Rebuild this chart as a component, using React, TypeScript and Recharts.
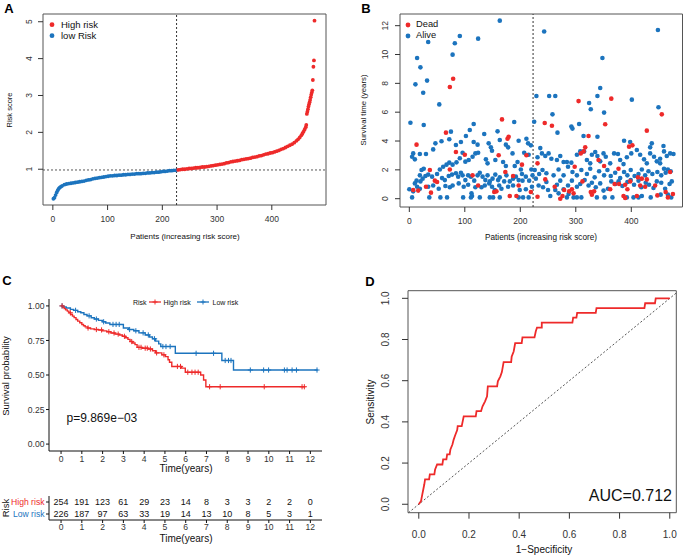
import React from 'react';
import {
  ScatterChart,
  Scatter,
  ComposedChart,
  LineChart,
  Line,
  XAxis,
  YAxis,
  ReferenceLine,
  ReferenceArea,
} from 'recharts';

const FONT = '"Liberation Sans", Arial, Helvetica, sans-serif';
const RED = '#EE2A2A';
const BLUE = '#1C74BE';
const INK = '#333';

// ---- A: risk score per patient (sorted), [patient rank, score]
const lowRiskScores: [number, number][] = [
  [1, 0.2], [3, 0.23], [5, 0.3], [7, 0.37], [9, 0.43], [11, 0.48], [13, 0.51], [15, 0.53], [17, 0.55],
  [21, 0.58], [25, 0.6], [29, 0.61], [33, 0.62], [37, 0.63], [41, 0.64], [45, 0.65], [49, 0.66], [53, 0.67],
  [57, 0.68], [61, 0.7], [65, 0.71], [69, 0.72], [73, 0.74], [77, 0.75], [81, 0.76], [85, 0.77], [89, 0.78],
  [93, 0.79], [97, 0.8], [101, 0.81], [105, 0.82], [109, 0.82], [113, 0.83], [117, 0.83], [121, 0.84],
  [125, 0.84], [129, 0.85], [133, 0.85], [137, 0.86], [141, 0.86], [145, 0.87], [149, 0.87], [153, 0.88],
  [157, 0.88], [161, 0.88], [165, 0.89], [169, 0.89], [173, 0.9], [177, 0.9], [181, 0.91], [185, 0.91],
  [189, 0.92], [193, 0.92], [197, 0.93], [201, 0.94], [205, 0.94], [209, 0.95], [213, 0.96], [217, 0.96],
  [221, 0.97], [225, 0.97],
];
const highRiskScores: [number, number][] = [
  [229, 0.98], [233, 0.99], [237, 1.0], [241, 1.0], [245, 1.01], [249, 1.02], [253, 1.02], [257, 1.03],
  [261, 1.04], [265, 1.04], [269, 1.05], [273, 1.06], [277, 1.06], [281, 1.07], [285, 1.08], [289, 1.09],
  [293, 1.1], [297, 1.11], [301, 1.12], [305, 1.13], [309, 1.14], [313, 1.15], [317, 1.17], [321, 1.18],
  [325, 1.2], [329, 1.21], [333, 1.22], [337, 1.23], [341, 1.24], [345, 1.26], [349, 1.27], [353, 1.28],
  [357, 1.29], [361, 1.3], [365, 1.32], [369, 1.33], [373, 1.34], [377, 1.36], [381, 1.37], [385, 1.39],
  [389, 1.41], [393, 1.42], [397, 1.44], [401, 1.45], [405, 1.47], [409, 1.49], [413, 1.51], [417, 1.54],
  [421, 1.56], [425, 1.59], [429, 1.62], [433, 1.65], [437, 1.68], [441, 1.72], [445, 1.77], [448, 1.81],
  [451, 1.86], [454, 1.92], [456, 1.97], [458, 2.02], [460, 2.08], [462, 2.14], [463, 2.2], [464, 2.5],
  [465, 2.56], [466, 2.63], [467, 2.7], [468, 2.76], [469, 2.82], [470, 2.88], [471, 2.95], [472, 3.02],
  [473, 3.08], [474, 3.14], [475, 3.42], [476, 3.78], [477, 3.95], [478, 5.03],
];
const riskCutoff = 0.98;
const lowRiskCount = 226;
const riskTicksX = [0, 100, 200, 300, 400];
const riskTicksY = [1, 2, 3, 4, 5];

// ---- B: survival time per patient, [patient rank, years]
const alivePoints: [number, number][] = [
  [163, 12.35], [91, 11.28], [124, 11.1], [34, 10.87], [82, 10.78], [78, 9.99], [14, 9.76], [20, 9.11],
  [32, 8.19], [11, 7.93], [25, 7.35], [54, 6.54], [229, 7.12], [243, 11.6], [2, 5.27], [26, 5.11],
  [189, 5.32], [225, 5.34], [116, 5.18], [448, 11.7], [348, 9.76], [344, 7.68], [339, 7.12], [252, 7.12],
  [263, 7.12], [324, 6.64], [327, 6.2], [401, 6.87], [449, 6.34], [351, 5.97], [258, 5.85], [306, 5.18],
  [292, 5.0], [294, 4.86], [267, 4.58],
  [7, 3.14], [5, 2.91], [10, 2.73], [19, 3.1], [30, 3.1], [43, 3.42], [47, 3.84], [58, 3.98], [72, 4.12],
  [75, 4.65], [84, 3.72], [93, 3.93], [102, 4.35], [109, 4.76], [116, 3.93], [123, 3.75], [119, 3.14],
  [124, 3.19], [135, 4.49], [143, 3.84], [147, 3.56], [149, 3.33], [159, 4.67], [163, 4.07], [174, 3.75],
  [178, 3.56], [186, 3.14], [197, 4.02], [211, 4.16], [214, 3.84], [215, 3.05], [219, 3.7], [207, 3.19],
  [231, 2.87], [96, 3.19], [107, 2.68], [114, 2.91], [101, 2.57], [72, 2.5], [67, 2.36], [61, 2.22],
  [78, 2.36], [85, 2.52], [91, 2.8], [138, 2.73], [141, 2.45], [155, 2.68], [169, 2.54], [174, 2.27],
  [190, 2.27], [195, 2.54], [201, 2.03], [203, 1.71], [220, 2.03], [226, 1.99], [234, 1.71],
  [22, 1.99], [26, 2.08], [34, 1.67], [19, 1.62], [13, 1.25], [10, 1.06], [14, 0.83], [20, 1.2], [24, 1.39],
  [29, 1.57], [41, 1.53], [50, 1.71], [55, 2.03], [59, 1.43], [64, 1.29], [71, 1.57], [77, 1.67], [84, 1.76],
  [88, 1.53], [93, 1.8], [96, 1.62], [101, 1.29], [106, 1.62], [111, 1.53], [117, 1.25], [123, 1.62],
  [127, 1.8], [132, 1.53], [137, 1.29], [141, 1.62], [145, 1.2], [150, 1.39], [155, 1.67], [160, 1.29],
  [163, 1.48], [171, 1.2], [175, 1.62], [181, 1.2], [187, 1.39], [192, 1.53], [197, 1.29], [204, 1.25],
  [210, 1.53], [216, 1.25], [222, 1.62], [228, 1.39],
  [0, 0.65], [7, 0.51], [19, 0.69], [34, 0.83], [43, 0.92], [53, 0.69], [65, 0.88], [73, 0.79], [78, 0.92],
  [89, 1.06], [98, 0.83], [106, 0.97], [112, 0.37], [113, 0.19], [119, 0.79], [130, 0.79], [136, 0.92],
  [144, 1.06], [149, 0.83], [154, 0.6], [162, 0.92], [166, 0.69], [178, 0.83], [187, 0.92], [199, 0.6],
  [210, 0.65], [221, 0.83], [233, 0.92],
  [5, 0.09], [36, 0.09], [56, 0.09], [68, 0.09], [97, 0.09], [111, 0.09], [127, 0.09], [145, 0.09],
  [151, 0.09], [163, 0.09], [197, 0.09], [205, 0.09], [215, 0.09],
  [387, 4.02], [398, 3.93], [434, 3.56], [458, 3.65], [314, 4.35], [339, 4.3], [236, 3.51], [239, 3.14],
  [245, 2.96], [251, 3.14], [256, 2.77], [266, 2.68], [272, 2.96], [278, 2.54], [284, 2.54], [292, 2.5],
  [302, 3.05], [308, 3.28], [315, 3.28], [320, 2.68], [326, 2.45], [329, 3.05], [335, 3.24], [339, 2.96],
  [344, 2.59], [350, 3.14], [354, 2.91], [362, 2.45], [369, 3.14], [376, 3.1], [380, 2.68], [386, 2.4],
  [392, 2.87], [400, 3.14], [410, 3.38], [416, 3.05], [423, 2.73], [428, 2.45], [434, 3.14], [437, 3.84],
  [441, 2.91], [446, 2.59], [452, 2.77], [459, 3.28], [464, 2.96], [470, 3.14], [476, 3.1], [466, 2.03],
  [459, 2.08], [452, 2.45],
  [240, 1.99], [247, 1.76], [260, 1.62], [269, 2.03], [278, 1.62], [286, 2.22], [294, 1.85], [302, 1.62],
  [310, 1.99], [320, 1.71], [326, 2.08], [334, 1.48], [342, 1.9], [351, 1.62], [357, 1.99], [363, 1.57],
  [371, 1.8], [380, 1.43], [387, 1.85], [393, 1.62], [399, 1.99], [406, 1.57], [413, 1.71], [419, 2.03],
  [425, 1.62], [431, 1.9], [438, 1.71], [447, 1.85], [454, 1.62], [462, 1.8], [471, 1.9],
  [247, 1.16], [241, 0.79], [250, 0.6], [266, 0.97], [272, 1.25], [278, 0.65], [286, 0.92], [293, 1.25],
  [302, 0.83], [308, 1.02], [316, 1.29], [323, 0.92], [329, 1.11], [336, 0.79], [344, 1.06], [350, 0.56],
  [358, 0.69], [364, 1.2], [371, 1.02], [377, 1.2], [384, 0.88], [393, 1.16], [399, 1.29], [405, 0.97],
  [413, 1.25], [418, 0.79], [426, 1.11], [432, 0.97], [440, 0.74], [446, 1.2], [454, 1.11], [461, 0.69],
  [469, 1.02], [473, 1.2],
  [254, 0.19], [263, 0.6], [269, 0.37], [284, 0.09], [287, 0.32], [296, 0.09], [302, 0.09], [310, 0.09],
  [338, 0.09], [352, 0.09], [366, 0.09], [392, 0.09], [404, 0.09], [413, 0.09], [419, 0.19], [435, 0.09],
  [453, 0.28], [466, 0.28], [472, 0.09],
];
const deadPoints: [number, number][] = [
  [79, 8.32], [73, 7.75], [167, 5.5], [244, 5.25], [305, 6.77], [364, 6.94], [455, 5.85], [257, 5.06],
  [353, 5.16], [428, 4.72],
  [66, 4.58], [13, 3.75], [84, 3.24], [100, 3.05], [161, 3.01], [179, 4.3], [177, 4.16], [211, 3.01],
  [203, 2.36], [231, 2.45], [37, 1.99], [73, 2.03], [114, 1.62], [46, 1.25], [50, 1.16], [173, 1.85],
  [187, 1.57], [124, 0.92], [30, 0.83], [7, 0.6], [16, 0.56], [39, 0.42], [153, 0.46], [157, 0.51],
  [197, 0.92], [219, 0.46], [181, 0.19], [193, 0.19], [231, 0.14],
  [323, 4.35], [309, 3.14], [314, 3.28], [317, 3.56], [341, 2.68], [298, 2.22], [351, 2.27], [377, 2.08],
  [402, 3.7], [396, 3.61], [470, 1.85], [245, 1.34], [312, 1.2], [262, 0.83], [279, 0.6], [293, 0.65],
  [296, 0.37], [327, 0.46], [329, 0.28], [333, 0.51], [370, 1.02], [378, 1.02], [389, 0.97], [393, 0.65],
  [398, 1.2], [386, 0.19], [389, 0.05], [412, 1.48], [416, 0.92], [419, 1.39], [425, 0.83], [443, 0.92],
  [447, 0.23], [462, 0.46], [466, 0.09], [475, 0.32], [272, 0.0], [276, 0.19], [288, 0.51], [362, 0.65],
  [410, 0.19], [428, 1.34],
];
const survTicksY = [0, 2, 4, 6, 8, 10, 12];
const survSplit = 223;

// ---- C: Kaplan-Meier, [years, survival]
const kmTicks = [0, 1, 2, 3, 4, 5, 6, 7, 8, 9, 10, 11, 12];
const kmYTicks = [0, 0.25, 0.5, 0.75, 1];
const highRiskKM: [number, number][] = [
  [0, 1.0], [0.08, 0.992], [0.15, 0.98], [0.22, 0.971], [0.3, 0.962], [0.38, 0.95], [0.46, 0.938],
  [0.55, 0.926], [0.63, 0.915], [0.72, 0.902], [0.8, 0.89], [0.9, 0.878], [1.0, 0.866], [1.08, 0.856],
  [1.16, 0.848], [1.28, 0.84], [1.42, 0.834], [1.6, 0.829], [1.8, 0.826], [2.0, 0.819], [2.2, 0.813],
  [2.4, 0.804], [2.6, 0.796], [2.8, 0.789], [2.95, 0.78], [3.1, 0.77], [3.22, 0.758], [3.32, 0.742],
  [3.45, 0.732], [3.56, 0.72], [3.66, 0.7], [3.9, 0.694], [4.2, 0.688], [4.4, 0.676], [4.55, 0.66],
  [4.85, 0.646], [5.02, 0.633], [5.15, 0.61], [5.22, 0.592], [5.33, 0.562], [5.8, 0.55], [5.98, 0.52],
  [6.72, 0.5], [6.86, 0.464], [6.97, 0.415], [11.76, 0.415],
];
const lowRiskKM: [number, number][] = [
  [0, 1.0], [0.1, 0.992], [0.25, 0.985], [0.45, 0.975], [0.6, 0.968], [0.8, 0.958], [0.95, 0.95],
  [1.1, 0.938], [1.25, 0.928], [1.45, 0.914], [1.6, 0.905], [1.8, 0.895], [2.0, 0.885], [2.15, 0.876],
  [2.35, 0.866], [3.0, 0.84], [3.25, 0.829], [3.5, 0.82], [3.75, 0.805], [4.05, 0.79], [4.25, 0.775],
  [4.4, 0.762], [4.55, 0.745], [4.7, 0.725], [4.8, 0.706], [5.5, 0.657], [7.74, 0.605], [8.3, 0.536],
  [12.35, 0.536],
];
const highRiskCensor = [
  0.05, 0.45, 1.3, 1.7, 1.95, 2.3, 2.55, 2.75, 3.05, 3.4, 3.75, 3.85, 4.05, 4.15, 4.3, 4.6, 4.95, 5.6,
  5.75, 6.1, 6.3, 6.45, 6.6, 7.15, 7.66, 9.78, 11.6, 11.71,
];
const lowRiskCensor = [
  0.05, 0.7, 1.35, 1.7, 2.05, 2.5, 2.65, 2.8, 3.3, 3.6, 3.95, 4.2, 4.5, 4.9, 5.05, 5.25, 6.5, 7.34, 7.9,
  8.06, 8.18, 9.11, 9.75, 9.99, 10.75, 10.88, 11.12, 11.33, 12.32,
];
const riskGroups = ['High risk', 'Low risk'];
const highAtRisk = [254, 191, 123, 61, 29, 23, 14, 8, 3, 3, 2, 2, 0];
const lowAtRisk = [226, 187, 97, 63, 33, 19, 14, 13, 10, 8, 5, 3, 1];
const pValueText = 'p=9.869e\u221203';

// ---- D: ROC curve, [1-specificity, sensitivity]
const rocPoints: [number, number][] = [
  [0, 0], [0.009, 0.016], [0.014, 0.048], [0.022, 0.097], [0.025, 0.121], [0.041, 0.121], [0.044, 0.145],
  [0.062, 0.145], [0.065, 0.169], [0.073, 0.193], [0.094, 0.193], [0.097, 0.218], [0.11, 0.218],
  [0.113, 0.242], [0.123, 0.242], [0.126, 0.266], [0.134, 0.29], [0.139, 0.314], [0.145, 0.335],
  [0.153, 0.36], [0.155, 0.379], [0.171, 0.379], [0.179, 0.427], [0.227, 0.427], [0.23, 0.452],
  [0.248, 0.452], [0.254, 0.476], [0.264, 0.5], [0.272, 0.524], [0.275, 0.572], [0.312, 0.572],
  [0.315, 0.597], [0.325, 0.621], [0.331, 0.642], [0.338, 0.69], [0.368, 0.69], [0.37, 0.716],
  [0.378, 0.742], [0.384, 0.782], [0.41, 0.782], [0.413, 0.81], [0.461, 0.81], [0.466, 0.839],
  [0.471, 0.858], [0.49, 0.858], [0.49, 0.882], [0.612, 0.882], [0.615, 0.906], [0.628, 0.906],
  [0.631, 0.929], [0.705, 0.929], [0.708, 0.952], [0.899, 0.952], [0.902, 0.976], [0.941, 0.976],
  [0.944, 1.0], [1.0, 1.0],
];
const rocTicks = [0, 0.2, 0.4, 0.6, 0.8, 1.0];
const aucText = 'AUC=0.712';

function survAt(km: [number, number][], t: number) {
  let s = km[0][1];
  for (const [tt, ss] of km) if (tt <= t) s = ss;
  return s;
}

type TxtProps = {
  x: number;
  y: number;
  size: number;
  children: React.ReactNode;
  color?: string;
  rot?: number;
  align?: 'left' | 'center' | 'right';
  bold?: boolean;
};

function Txt({ x, y, size, children, color = '#111', rot = 0, align = 'center', bold = false }: TxtProps) {
  const tx = align === 'left' ? '0' : align === 'right' ? '-100%' : '-50%';
  return (
    <div
      style={{
        position: 'absolute',
        left: x,
        top: y,
        transform: `translate(${tx}, -50%) rotate(${rot}deg)`,
        fontSize: size,
        lineHeight: 1,
        whiteSpace: 'nowrap',
        color,
        fontFamily: FONT,
        fontWeight: bold ? 700 : 400,
      }}
    >
      {children}
    </div>
  );
}

function RotTick(props: any) {
  const { x, y, payload, size, fmt } = props;
  const label = fmt ? fmt(payload.value) : String(payload.value);
  return (
    <text
      x={x}
      y={y}
      transform={`rotate(-90 ${x} ${y})`}
      textAnchor="middle"
      fontSize={size}
      fill={INK}
      fontFamily={FONT}
    >
      {label}
    </text>
  );
}

function RiskRowTick(props: any) {
  const { x, y, payload } = props;
  const high = payload.value === 3;
  return (
    <text
      x={x}
      y={y}
      textAnchor="end"
      dominantBaseline="central"
      fontSize={8.6}
      fill={high ? RED : BLUE}
      fontFamily={FONT}
    >
      {high ? riskGroups[0] : riskGroups[1]}
    </text>
  );
}

const dot = (r: number, fill: string) => (p: any) => <circle cx={p.cx} cy={p.cy} r={r} fill={fill} />;
const cross = (color: string) => (p: any) => (
  <path d={`M${p.cx - 2.6},${p.cy}h5.2M${p.cx},${p.cy - 2.6}v5.2`} stroke={color} strokeWidth={1} />
);
const countLabel = (p: any) => (
  <text
    x={p.cx}
    y={p.cy}
    textAnchor="middle"
    dominantBaseline="central"
    fontSize={9}
    fill="#111"
    fontFamily={FONT}
  >
    {p.payload.n}
  </text>
);

const tickStyle = (size: number) => ({ fontSize: size, fill: INK, fontFamily: FONT });

function PanelA() {
  const low = lowRiskScores.map(([x, y]) => ({ x, y }));
  const high = highRiskScores.map(([x, y]) => ({ x, y }));
  return (
    <ScatterChart width={342} height={270} margin={{ top: 14, right: 16, bottom: 20, left: 0 }}>
      <XAxis
        type="number"
        dataKey="x"
        domain={[-18, 499]}
        ticks={riskTicksX}
        interval={0}
        axisLine={false}
        tickLine={{ stroke: INK }}
        tickSize={5}
        tickMargin={6}
        height={45}
        tick={tickStyle(8.5)}
        allowDataOverflow
      />
      <YAxis
        type="number"
        dataKey="y"
        domain={[0.03, 5.21]}
        ticks={riskTicksY}
        interval={0}
        axisLine={false}
        tickLine={{ stroke: INK }}
        tickSize={5}
        tickMargin={6}
        width={43}
        tick={<RotTick size={8.5} />}
        allowDataOverflow
      />
      <ReferenceArea x1={-18} x2={499} y1={0.03} y2={5.21} fill="none" stroke="#555" ifOverflow="visible" />
      <ReferenceLine y={riskCutoff} stroke="#555" strokeDasharray="2 2" />
      <ReferenceLine x={lowRiskCount} stroke="#333" strokeDasharray="2 2" />
      <Scatter data={low} shape={dot(1.9, BLUE)} isAnimationActive={false} />
      <Scatter data={high} shape={dot(1.9, RED)} isAnimationActive={false} />
    </ScatterChart>
  );
}

function PanelB() {
  const alive = alivePoints.map(([x, y]) => ({ x, y }));
  const dead = deadPoints.map(([x, y]) => ({ x, y }));
  return (
    <ScatterChart width={342} height={270} margin={{ top: 14, right: 1.5, bottom: 18, left: 0 }}>
      <XAxis
        type="number"
        dataKey="x"
        domain={[-16.8, 492.3]}
        ticks={riskTicksX}
        interval={0}
        axisLine={false}
        tickLine={{ stroke: INK }}
        tickSize={5}
        tickMargin={6}
        height={45}
        tick={tickStyle(8.5)}
        allowDataOverflow
      />
      <YAxis
        type="number"
        dataKey="y"
        domain={[-0.576, 12.81]}
        ticks={survTicksY}
        interval={0}
        axisLine={false}
        tickLine={{ stroke: INK }}
        tickSize={5}
        tickMargin={7}
        width={58}
        tick={<RotTick size={8.5} />}
        allowDataOverflow
      />
      <ReferenceArea x1={-16.8} x2={492.3} y1={-0.576} y2={12.81} fill="none" stroke="#555" ifOverflow="visible" />
      <ReferenceLine x={survSplit} stroke="#333" strokeDasharray="2 2" />
      <Scatter data={alive} shape={dot(2.3, BLUE)} isAnimationActive={false} />
      <Scatter data={dead} shape={dot(2.3, RED)} isAnimationActive={false} />
    </ScatterChart>
  );
}

function PanelC() {
  const high = highRiskKM.map(([t, s]) => ({ t, s }));
  const low = lowRiskKM.map(([t, s]) => ({ t, s }));
  const highC = highRiskCensor.map((t) => ({ t, s: survAt(highRiskKM, t) }));
  const lowC = lowRiskCensor.map((t) => ({ t, s: survAt(lowRiskKM, t) }));
  return (
    <ComposedChart width={342} height={200} margin={{ top: 29, right: 20, bottom: 0, left: 0 }}>
      <XAxis
        type="number"
        dataKey="t"
        domain={[-0.58, 12.56]}
        ticks={kmTicks}
        interval={0}
        stroke="#111"
        tickLine={{ stroke: '#111' }}
        tickSize={3}
        tickMargin={1.5}
        height={19}
        tick={tickStyle(8.6)}
        allowDataOverflow
      />
      <YAxis
        type="number"
        dataKey="s"
        domain={[-0.05, 1.05]}
        ticks={kmYTicks}
        interval={0}
        stroke="#111"
        tickLine={{ stroke: '#111' }}
        tickSize={3}
        tickMargin={1.5}
        width={49}
        tickFormatter={(v: number) => v.toFixed(2)}
        tick={tickStyle(8.6)}
        allowDataOverflow
      />
      <Line data={low} dataKey="s" type="stepAfter" stroke={BLUE} strokeWidth={1.4} dot={false} isAnimationActive={false} />
      <Line data={high} dataKey="s" type="stepAfter" stroke={RED} strokeWidth={1.4} dot={false} isAnimationActive={false} />
      <Scatter data={lowC} shape={cross(BLUE)} isAnimationActive={false} />
      <Scatter data={highC} shape={cross(RED)} isAnimationActive={false} />
    </ComposedChart>
  );
}

function RiskTable() {
  const rows = [
    ...highAtRisk.map((n, i) => ({ t: kmTicks[i], s: 3, n })),
    ...lowAtRisk.map((n, i) => ({ t: kmTicks[i], s: 1, n })),
  ];
  return (
    <ComposedChart width={342} height={50} margin={{ top: 6, right: 20, bottom: 0, left: 0 }}>
      <XAxis
        type="number"
        dataKey="t"
        domain={[-0.58, 12.56]}
        ticks={kmTicks}
        interval={0}
        stroke="#111"
        tickLine={{ stroke: '#111' }}
        tickSize={3}
        tickMargin={0.5}
        height={20}
        tick={tickStyle(8.6)}
        allowDataOverflow
      />
      <YAxis
        type="number"
        dataKey="s"
        domain={[0, 4]}
        ticks={[1, 3]}
        interval={0}
        stroke="#111"
        tickLine={{ stroke: '#111' }}
        tickSize={3}
        tickMargin={1.5}
        width={49}
        tick={<RiskRowTick />}
        allowDataOverflow
      />
      <Scatter data={rows} shape={countLabel} isAnimationActive={false} />
    </ComposedChart>
  );
}

function PanelD() {
  const roc = rocPoints.map(([fpr, tpr]) => ({ fpr, tpr }));
  return (
    <LineChart width={342} height={286} data={roc} margin={{ top: 20.7, right: 7.7, bottom: 0, left: 0 }}>
      <XAxis
        type="number"
        dataKey="fpr"
        domain={[-0.043, 1.026]}
        ticks={rocTicks}
        interval={0}
        axisLine={false}
        tickLine={{ stroke: INK }}
        tickSize={6}
        tickMargin={12}
        height={43.3}
        tickFormatter={(v: number) => v.toFixed(1)}
        tick={tickStyle(10)}
        allowDataOverflow
      />
      <YAxis
        type="number"
        dataKey="tpr"
        domain={[-0.041, 1.037]}
        ticks={rocTicks}
        interval={0}
        axisLine={false}
        tickLine={{ stroke: INK }}
        tickSize={6}
        tickMargin={13}
        width={66}
        tick={<RotTick size={10} fmt={(v: number) => v.toFixed(1)} />}
        allowDataOverflow
      />
      <ReferenceArea x1={-0.043} x2={1.026} y1={-0.041} y2={1.037} fill="none" stroke="#555" ifOverflow="visible" />
      <ReferenceLine
        segment={[{ x: -0.041, y: -0.041 }, { x: 1.026, y: 1.026 }]}
        stroke="#555"
        strokeDasharray="2 2"
        ifOverflow="visible"
      />
      <Line dataKey="tpr" type="linear" stroke={RED} strokeWidth={1.8} dot={false} isAnimationActive={false} />
    </LineChart>
  );
}

function KmKey({ x, y, color }: { x: number; y: number; color: string }) {
  return (
    <svg style={{ position: 'absolute', left: x, top: y - 4 }} width={12} height={8}>
      <line x1={0} y1={4} x2={12} y2={4} stroke={color} strokeWidth={1.3} />
      <path d="M6,1.5v5M3.5,4h5" stroke={color} strokeWidth={1} />
    </svg>
  );
}

export default function App() {
  return (
    <div
      style={{
        position: 'absolute',
        left: 0,
        top: 0,
        width: 684,
        height: 556,
        background: '#fff',
        overflow: 'hidden',
        fontFamily: FONT,
      }}
    >
      <div style={{ position: 'absolute', left: 0, top: 0 }}>
        <PanelA />
      </div>
      <div style={{ position: 'absolute', left: 342, top: 0 }}>
        <PanelB />
      </div>
      <div style={{ position: 'absolute', left: 0, top: 270 }}>
        <PanelC />
      </div>
      <div style={{ position: 'absolute', left: 0, top: 490 }}>
        <RiskTable />
      </div>
      <div style={{ position: 'absolute', left: 342, top: 270 }}>
        <PanelD />
      </div>

      {/* panel letters */}
      <Txt x={9} y={8} size={13} bold color="#000">A</Txt>
      <Txt x={366} y={8} size={13} bold color="#000">B</Txt>
      <Txt x={7} y={280} size={13} bold color="#000">C</Txt>
      <Txt x={370} y={281} size={13} bold color="#000">D</Txt>

      {/* A */}
      <svg style={{ position: 'absolute', left: 49, top: 21 }} width={8} height={18}>
        <circle cx={3} cy={3.7} r={2.4} fill={RED} />
        <circle cx={3} cy={14.7} r={2.4} fill={BLUE} />
      </svg>
      <Txt x={61} y={25} size={9.5} align="left">High risk</Txt>
      <Txt x={61} y={36} size={9.5} align="left">low Risk</Txt>
      <Txt x={185} y={236.5} size={8}>Patients (increasing risk score)</Txt>
      <Txt x={9.5} y={110} size={7.5} rot={-90}>Risk score</Txt>

      {/* B */}
      <svg style={{ position: 'absolute', left: 405, top: 21 }} width={8} height={18}>
        <circle cx={3} cy={4} r={2.4} fill={RED} />
        <circle cx={3} cy={15} r={2.4} fill={BLUE} />
      </svg>
      <Txt x={416} y={25} size={9.3} align="left">Dead</Txt>
      <Txt x={416} y={36} size={9.3} align="left">Alive</Txt>
      <Txt x={541} y={238} size={8.2}>Patients (increasing risk score)</Txt>
      <Txt x={364} y={110} size={7.8} rot={-90}>Survival time (years)</Txt>

      {/* C */}
      <Txt x={133} y={301.5} size={7} align="left">Risk</Txt>
      <KmKey x={148.5} y={301.5} color={RED} />
      <Txt x={163.5} y={301.5} size={7} align="left">{riskGroups[0]}</Txt>
      <KmKey x={197} y={301.5} color={BLUE} />
      <Txt x={212.5} y={301.5} size={7} align="left">{riskGroups[1]}</Txt>
      <Txt x={66.5} y={417.5} size={12} align="left">{pValueText}</Txt>
      <Txt x={186} y={469} size={10}>Time(years)</Txt>
      <Txt x={5.5} y={376} size={9.5} rot={-90}>Survival probability</Txt>
      <Txt x={6} y={508} size={9.5} rot={-90}>Risk</Txt>
      <Txt x={186} y={539} size={10}>Time(years)</Txt>

      {/* D */}
      <Txt x={672} y={495.5} size={16} align="right">{aucText}</Txt>
      <Txt x={544} y={550} size={10}>{'1\u2212Specificity'}</Txt>
      <Txt x={370.5} y={401.5} size={10} rot={-90}>Sensitivity</Txt>
    </div>
  );
}
